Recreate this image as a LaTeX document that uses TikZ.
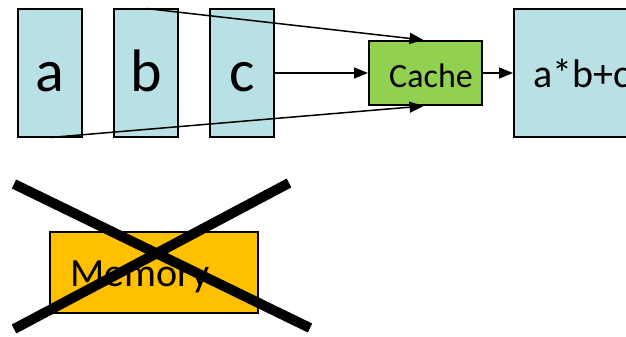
\documentclass[tikz,border=0pt]{standalone}
\usepackage{fontspec}
\setmainfont{Carlito}
\usetikzlibrary{arrows.meta}
\definecolor{lblue}{HTML}{B9E0E5}
\definecolor{lgreen}{HTML}{92D050}
\definecolor{lorange}{HTML}{FFC000}
\begin{document}
\begin{tikzpicture}[x=1pt,y=-1pt,
  regbox/.style={draw=black,line width=2pt,fill=lblue,minimum width=64pt,minimum height=127pt,inner sep=0pt},
  big/.style={font=\fontsize{60}{64}\selectfont},
  mid/.style={font=\fontsize{40}{44}\selectfont},
  conn/.style={line width=1.5pt,-{Triangle[length=14pt,width=11pt]}},
  cross/.style={line width=10pt}]
\useasboundingbox (0,0) rectangle (626,337);
\clip (0,0) rectangle (626,337);
\node[regbox] (a) at (50,73) {};
\node[regbox] (b) at (146,73) {};
\node[regbox] (c) at (242,73) {};
\node[big,anchor=base] (ta) at (50,92) {a};
\node[big,anchor=base] (tb) at (146,92) {b};
\node[big,anchor=base] (tc) at (242,92) {c};
\node[draw=black,line width=2pt,fill=lgreen,minimum width=113pt,minimum height=64pt,inner sep=0pt] (cache) at (425.5,73) {};
\node[font=\fontsize{34}{38}\selectfont,anchor=base] (tcache) at (431,87) {Cache};
\node[regbox,minimum width=140pt,anchor=west] (res) at (513,73) {};
\node[mid,anchor=base west,inner sep=0pt] (tres) at (533,87) {a*b+c};
\node[draw=black,line width=2pt,fill=lorange,minimum width=208pt,minimum height=81pt,inner sep=0pt] (mem) at (154,272.5) {};
\node[mid,anchor=base west,inner sep=0pt] (tmem) at (70,286) {Memory};
\draw[conn] (c.east) -- (cache.west);
\draw[conn] (cache.east) -- (res.west);
\draw[conn] (b.north) -- ([xshift=-2pt]cache.north);
\draw[conn] (a.south) -- ([xshift=-2pt]cache.south);
\coordinate (x1) at (14,184);
\coordinate (x2) at (310,328);
\coordinate (x3) at (289,183);
\coordinate (x4) at (14,329);
\draw[cross] (x1) -- (x2);
\draw[cross] (x3) -- (x4);
\end{tikzpicture}
\end{document}
